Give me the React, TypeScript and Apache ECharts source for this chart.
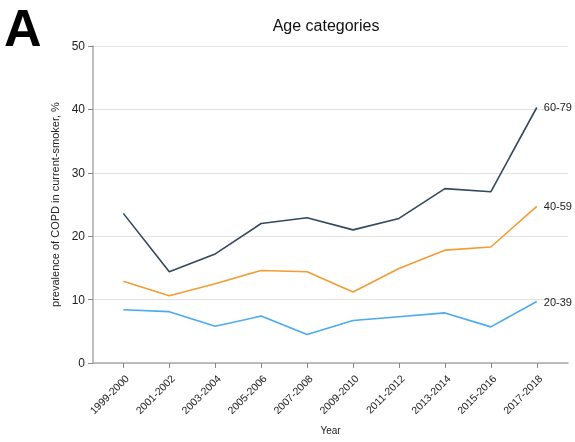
import React, { useEffect, useRef } from "react";
import * as echarts from "echarts";

const periods = [
  "1999-2000", "2001-2002", "2003-2004", "2005-2006", "2007-2008",
  "2009-2010", "2011-2012", "2013-2014", "2015-2016", "2017-2018",
];
const age60to79 = [23.6, 14.4, 17.2, 22.0, 22.9, 21.0, 22.8, 27.5, 27.0, 40.3];
const age40to59 = [12.9, 10.6, 12.5, 14.6, 14.4, 11.2, 14.9, 17.8, 18.3, 24.7];
const age20to39 = [8.4, 8.1, 5.8, 7.4, 4.5, 6.7, 7.3, 7.9, 5.7, 9.7];
const yTicks = [0, 10, 20, 30, 40, 50];

const FONT = "Liberation Sans, Arial, sans-serif";

function makeSeries(name: string, values: number[], color: string) {
  return {
    name,
    type: "line",
    data: values.map((v, i) => [i, v]),
    symbol: "none",
    clip: false,
    lineStyle: { color, width: 1.6 },
    itemStyle: { color },
    endLabel: {
      show: true,
      formatter: name,
      color: "#222",
      fontSize: 11,
      fontFamily: FONT,
      distance: 7,
    },
  };
}

export default function App() {
  const ref = useRef<HTMLDivElement>(null);

  useEffect(() => {
    if (!ref.current) return;
    const chart = echarts.init(ref.current, undefined, { renderer: "svg" });
    const idx = periods.map((_, i) => i);
    chart.setOption({
      animation: false,
      textStyle: { fontFamily: FONT },
      graphic: [
        {
          type: "text",
          left: 4,
          top: 2,
          style: { text: "A", fontSize: 52, fontWeight: "bold", fill: "#000", fontFamily: FONT },
        },
        {
          type: "text",
          x: 326,
          y: 25,
          style: {
            text: "Age categories",
            fontSize: 16,
            fill: "#111",
            fontFamily: FONT,
            align: "center",
            verticalAlign: "middle",
          },
        },
      ],
      grid: { left: 93, right: 7, top: 46, bottom: 79, outerBoundsMode: "none", containLabel: false },
      xAxis: {
        type: "value",
        min: -0.66,
        max: 9.68,
        name: "Year",
        nameLocation: "middle",
        nameGap: 62,
        nameTextStyle: { fontSize: 10, color: "#222", fontFamily: FONT },
        splitLine: { show: false },
        axisLine: { show: true, onZero: false, lineStyle: { color: "#aaa", width: 1.5 } },
        axisTick: { show: true, customValues: idx, length: 5, lineStyle: { color: "#888" } },
        axisLabel: {
          customValues: idx,
          rotate: 45,
          fontSize: 10.5,
          color: "#222",
          margin: 10,
          verticalAlign: "top",
          formatter: (v: number) => periods[Math.round(v)] ?? "",
        },
      },
      yAxis: {
        type: "value",
        min: yTicks[0],
        max: yTicks[yTicks.length - 1],
        interval: 10,
        name: "prevalence of COPD in current-smoker, %",
        nameLocation: "middle",
        nameGap: 31,
        nameTextStyle: { fontSize: 11, color: "#222", fontFamily: FONT },
        axisLine: { show: true, onZero: false, lineStyle: { color: "#aaa", width: 1.5 } },
        axisTick: { show: true, length: 5, lineStyle: { color: "#888" } },
        axisLabel: { fontSize: 12, color: "#222", margin: 8 },
        splitLine: { show: true, lineStyle: { color: "#e3e3e3", width: 1 } },
      },
      series: [
        makeSeries("60-79", age60to79, "#34495e"),
        makeSeries("40-59", age40to59, "#f39c33"),
        makeSeries("20-39", age20to39, "#4aabf0"),
      ],
    });
    return () => chart.dispose();
  }, []);

  return (
    <div
      ref={ref}
      style={{ position: "fixed", left: 0, top: 0, width: 575, height: 442 }}
    />
  );
}
